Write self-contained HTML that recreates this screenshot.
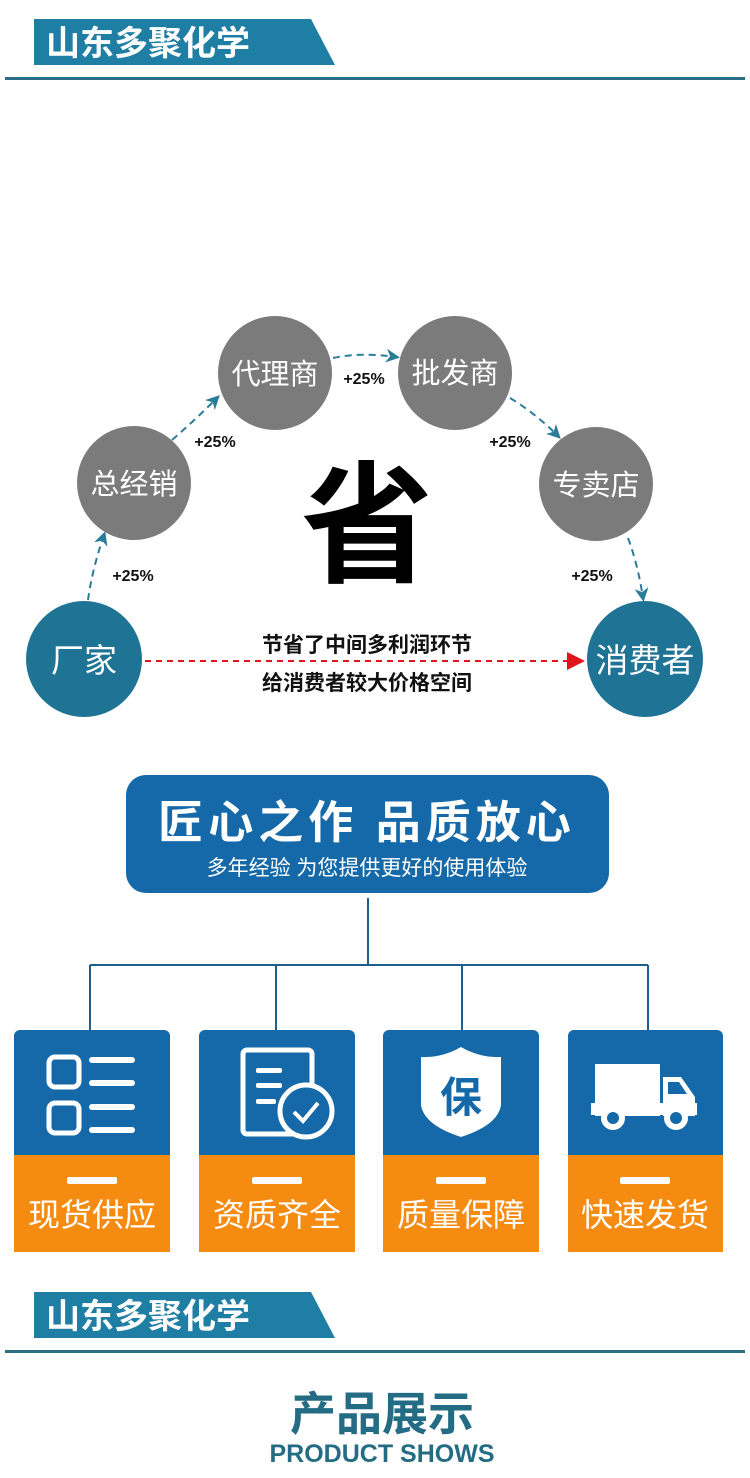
<!DOCTYPE html>
<html><head><meta charset="utf-8"><style>
html,body{margin:0;padding:0;background:#fff;}
svg{display:block;font-family:"Liberation Sans","Noto Sans CJK SC",sans-serif;}
</style></head><body>
<svg width="750" height="1478" viewBox="0 0 750 1478" xmlns="http://www.w3.org/2000/svg">
<defs>
<marker id="ab" markerWidth="14" markerHeight="14" refX="10" refY="7" orient="auto" markerUnits="userSpaceOnUse"><path d="M0,0 L14,7 L0,14 L4,7 z" fill="#2a7d98"/></marker>
<marker id="ar" markerWidth="18" markerHeight="18" refX="16" refY="9" orient="auto" markerUnits="userSpaceOnUse"><path d="M0,0 L18,9 L0,18 z" fill="#e0141b"/></marker>
</defs>
<polygon points="34,19 311,19 335,65 34,65" fill="#1f7ea3"/>
<text x="46" y="55" font-size="34" font-weight="bold" fill="#fff">山东多聚化学</text>
<rect x="5" y="77" width="740" height="3" fill="#2b6e84"/>

<g fill="none" stroke="#2a7d98" stroke-width="2" stroke-dasharray="7,5">
<path d="M88,600 Q92,570 104,535" marker-end="url(#ab)"/>
<path d="M172,440 Q195,420 217,398" marker-end="url(#ab)"/>
<path d="M333,358 Q360,352 396,357" marker-end="url(#ab)"/>
<path d="M510,398 Q535,413 558,436" marker-end="url(#ab)"/>
<path d="M628,538 Q638,565 643,598" marker-end="url(#ab)"/>
</g>
<path d="M145,661 L583,661" stroke="#e0141b" stroke-width="2" stroke-dasharray="6,5" fill="none" marker-end="url(#ar)"/>

<g fill="#7b7b7b">
<circle cx="275" cy="373" r="57"/><circle cx="455" cy="373" r="57"/>
<circle cx="134" cy="483" r="57"/><circle cx="596" cy="484" r="57"/>
</g>
<circle cx="84" cy="659" r="58" fill="#1f7495"/>
<circle cx="645" cy="659" r="58" fill="#1f7495"/>
<g fill="#fff" font-size="29" text-anchor="middle">
<text x="275" y="384">代理商</text><text x="455" y="383">批发商</text>
<text x="134" y="494">总经销</text><text x="596" y="495">专卖店</text>
<text x="84" y="672" font-size="33">厂家</text><text x="645" y="672" font-size="33">消费者</text>
</g>
<g font-size="16" fill="#111" font-weight="bold" text-anchor="middle">
<text x="364" y="384">+25%</text><text x="215" y="447">+25%</text>
<text x="510" y="447">+25%</text><text x="133" y="581">+25%</text>
<text x="592" y="581">+25%</text>
</g>
<text x="367" y="572" font-size="132" font-weight="bold" fill="#000" text-anchor="middle">省</text>
<g font-size="21" font-weight="bold" fill="#111" text-anchor="middle">
<text x="367" y="652">节省了中间多利润环节</text>
<text x="367" y="690">给消费者较大价格空间</text>
</g>

<rect x="126" y="775" width="483" height="118" rx="20" fill="#1569a8"/>
<text x="367" y="838" font-size="45" font-weight="bold" fill="#fff" text-anchor="middle" letter-spacing="5">匠心之作 品质放心</text>
<text x="367" y="875" font-size="21" fill="#fff" text-anchor="middle">多年经验 为您提供更好的使用体验</text>

<g stroke="#1c5f8a" stroke-width="2" fill="none">
<path d="M368,898 V965 M90,965 H648 M90,965 V1030 M276,965 V1030 M462,965 V1030 M648,965 V1030"/>
</g>

<g>
<path d="M14,1036 a6,6 0 0 1 6,-6 h144 a6,6 0 0 1 6,6 V1155 H14 z" fill="#1569a8"/>
<rect x="14" y="1155" width="156" height="97" fill="#f58b10"/>
<path d="M199,1036 a6,6 0 0 1 6,-6 h144 a6,6 0 0 1 6,6 V1155 H199 z" fill="#1569a8"/>
<rect x="199" y="1155" width="156" height="97" fill="#f58b10"/>
<path d="M383,1036 a6,6 0 0 1 6,-6 h144 a6,6 0 0 1 6,6 V1155 H383 z" fill="#1569a8"/>
<rect x="383" y="1155" width="156" height="97" fill="#f58b10"/>
<path d="M568,1036 a6,6 0 0 1 6,-6 h143 a6,6 0 0 1 6,6 V1155 H568 z" fill="#1569a8"/>
<rect x="568" y="1155" width="155" height="97" fill="#f58b10"/>
</g>
<g fill="#fff">
<rect x="67" y="1177" width="50" height="7" rx="2"/><rect x="252" y="1177" width="50" height="7" rx="2"/>
<rect x="436" y="1177" width="50" height="7" rx="2"/><rect x="620" y="1177" width="50" height="7" rx="2"/>
</g>
<g font-size="32" fill="#fff" text-anchor="middle">
<text x="92" y="1226">现货供应</text><text x="277" y="1226">资质齐全</text>
<text x="461" y="1226">质量保障</text><text x="645" y="1226">快速发货</text>
</g>
<g fill="none" stroke="#fff" stroke-width="5">
<rect x="49" y="1057" width="30" height="30" rx="6"/><rect x="49" y="1103" width="30" height="30" rx="6"/>
</g>
<g fill="#fff">
<rect x="89" y="1057" width="46" height="6" rx="3"/><rect x="89" y="1080" width="46" height="6" rx="3"/>
<rect x="89" y="1104" width="46" height="6" rx="3"/><rect x="89" y="1127" width="46" height="6" rx="3"/>
</g>
<rect x="243" y="1050" width="69" height="84" rx="4" fill="none" stroke="#fff" stroke-width="5"/>
<g fill="#fff"><rect x="256" y="1068" width="26" height="5" rx="2"/><rect x="256" y="1083" width="26" height="5" rx="2"/><rect x="256" y="1099" width="20" height="5" rx="2"/></g>
<circle cx="306" cy="1111" r="26" fill="#1569a8" stroke="#fff" stroke-width="5"/>
<path d="M294,1112 L303,1121 L318,1103" fill="none" stroke="#fff" stroke-width="4"/>
<path d="M461,1047 Q480,1058 501,1057 V1105 Q498,1125 461,1137 Q424,1125 421,1105 V1057 Q442,1058 461,1047 z" fill="#fff"/>
<text x="461" y="1112" font-size="42" font-weight="bold" fill="#1569a8" text-anchor="middle">保</text>
<g fill="#fff">
<rect x="595" y="1064" width="65" height="52"/>
<path d="M663,1077 h18 l14,20 v19 h-32 z"/>
<rect x="591" y="1103" width="106" height="12"/>
<circle cx="613" cy="1118" r="12"/><circle cx="676" cy="1118" r="12"/>
</g>
<path d="M668,1082 h11 l8,12 h-19 z" fill="#1569a8"/>
<circle cx="613" cy="1118" r="6" fill="#1569a8"/><circle cx="676" cy="1118" r="6" fill="#1569a8"/>

<polygon points="34,1292 311,1292 335,1338 34,1338" fill="#1f7ea3"/>
<text x="46" y="1328" font-size="34" font-weight="bold" fill="#fff">山东多聚化学</text>
<rect x="5" y="1350" width="740" height="3" fill="#2b6e84"/>

<text x="382" y="1430" font-size="46" font-weight="bold" fill="#236c84" text-anchor="middle">产品展示</text>
<text x="382" y="1462" font-size="25" font-weight="bold" fill="#236c84" text-anchor="middle">PRODUCT SHOWS</text>
</svg>
</body></html>
